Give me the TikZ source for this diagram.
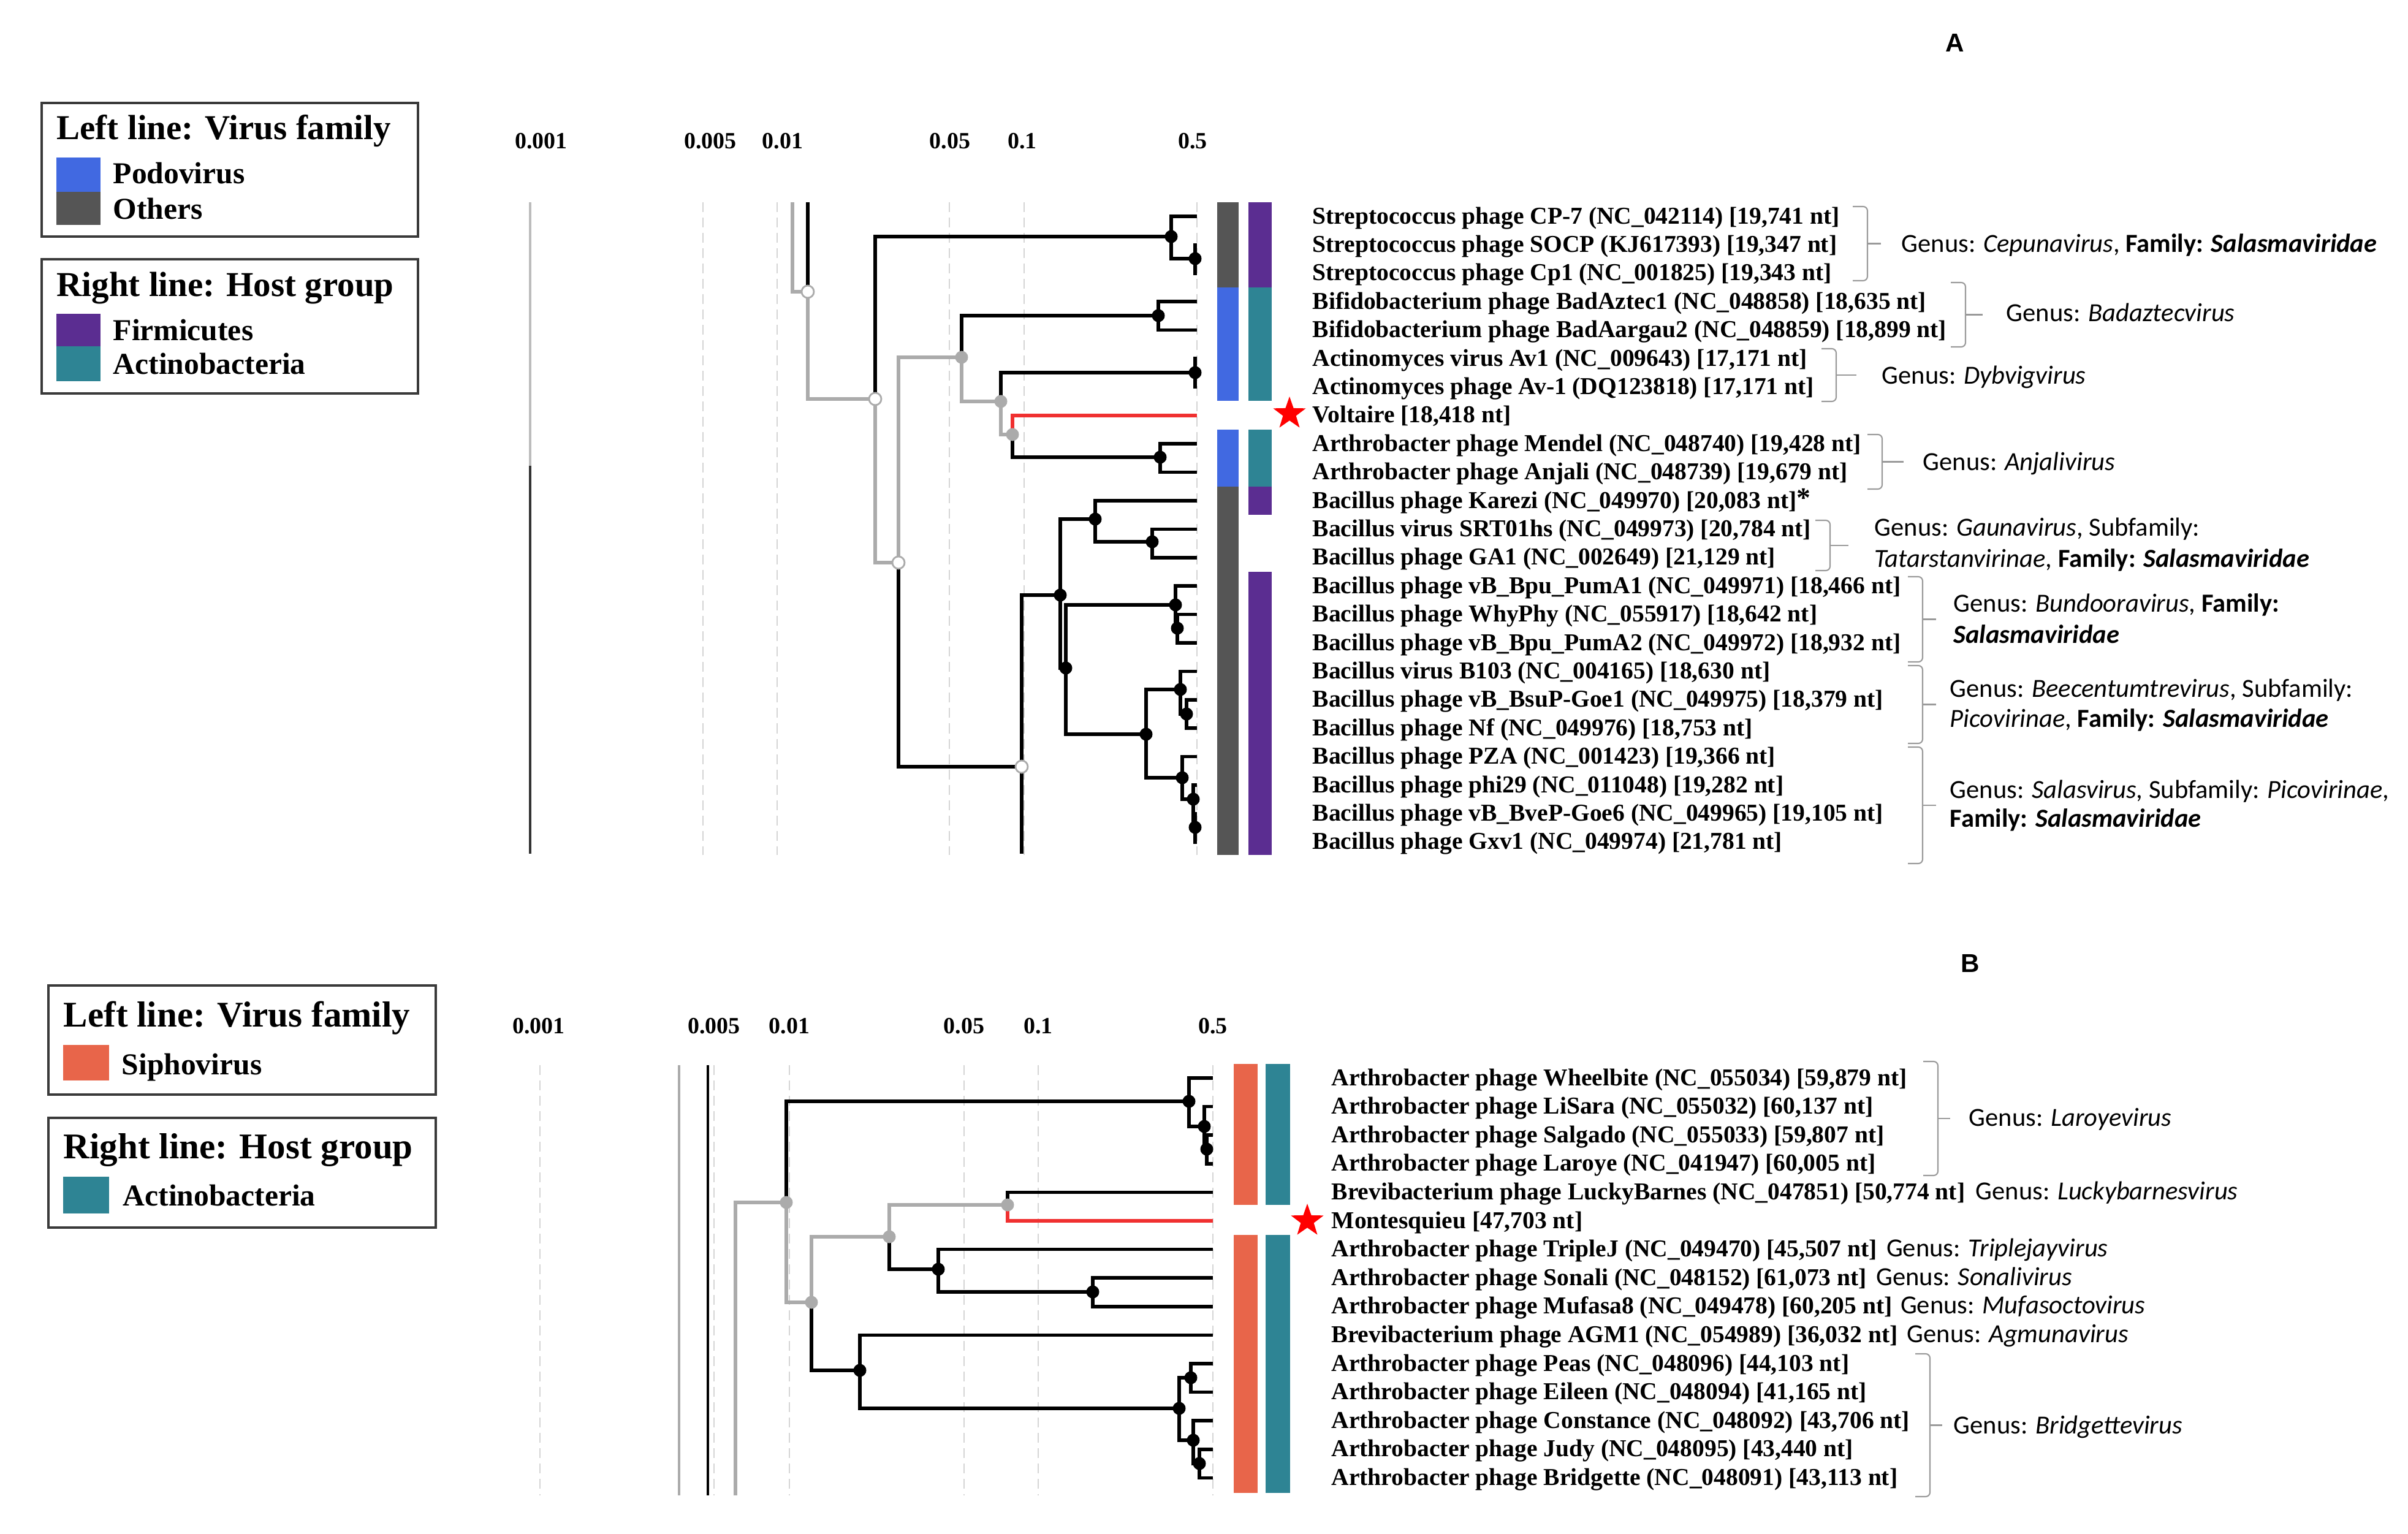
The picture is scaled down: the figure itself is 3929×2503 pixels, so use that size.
\documentclass[tikz,border=0pt]{standalone}
\usepackage{fontspec}
\setmainfont{Liberation Serif}
\newfontfamily\annofont{Carlito}
\newfontfamily\sansletter{Liberation Sans}
\usetikzlibrary{shapes.geometric,calc}

\definecolor{vgray}{HTML}{555555}
\definecolor{pblue}{HTML}{4169E1}
\definecolor{fpurple}{HTML}{5B2D91}
\definecolor{ateal}{HTML}{2E8494}
\definecolor{sorange}{HTML}{E8654A}
\definecolor{bgray}{HTML}{ABABAB}
\definecolor{gridc}{HTML}{D5D5D5}
\definecolor{redb}{HTML}{F03030}
\definecolor{bracec}{HTML}{9A9A9A}
\definecolor{boxc}{HTML}{3A3A3A}

\newcommand\gbrk[4]{%
  \draw[brk] (#1,#2) -- (#1+24,#2) -- (#1+24,#3) -- (#1,#3);
  \draw[brk] (#1+24,{(#2+#3)/2}) -- (#1+24+#4,{(#2+#3)/2});}

\begin{document}
\begin{tikzpicture}[x=0.01cm,y=-0.01cm,
  lab/.style={font=\bfseries\fontsize{11.24}{13}\selectfont, anchor=base west, inner sep=0pt},
  anno/.style={font=\annofont\fontsize{12.1}{14}\selectfont, anchor=base west, inner sep=0pt},
  scl/.style={font=\bfseries\fontsize{10.8}{12}\selectfont, anchor=base, inner sep=0pt},
  headA/.style={font=\bfseries\fontsize{16.2}{18}\selectfont, anchor=base west, inner sep=0pt},
  headB/.style={font=\bfseries\fontsize{16.8}{18}\selectfont, anchor=base west, inner sep=0pt},
  itemst/.style={font=\bfseries\fontsize{14.1}{16}\selectfont, anchor=base west, inner sep=0pt},
  blk/.style={line width=1.6pt, black},
  gry/.style={line width=1.6pt, bgray},
  redbr/.style={line width=1.6pt, redb},
  bdot/.style={circle, fill=black, inner sep=0pt, minimum size=0.21cm},
  gdot/.style={circle, fill=bgray, inner sep=0pt, minimum size=0.21cm},
  odot/.style={circle, fill=white, draw=bgray, line width=0.8pt, inner sep=0pt, minimum size=0.2cm},
  gridln/.style={gridc, line width=0.8pt, dash pattern=on 0.16cm off 0.09cm},
  brk/.style={bracec, line width=0.6pt, rounded corners=2pt},
  lbox/.style={draw=boxc, line width=1.4pt},
  starst/.style={star, star points=5, star point ratio=2.5, fill=red, inner sep=0pt, minimum size=0.56cm},
  panel/.style={font=\sansletter\bfseries\fontsize{12}{14}\selectfont, anchor=base, inner sep=0pt}
]
\useasboundingbox (0,0) rectangle (3929,2503);
\fill[white] (0,0) rectangle (3929,2503);

% ================= LEGENDS =================
\draw[lbox] (68,168) rectangle (682,386);
\draw[lbox] (68,423) rectangle (682,642);
\fill[pblue] (92,257) rectangle (164,313);
\fill[vgray] (92,313) rectangle (164,367);
\fill[fpurple] (92,512) rectangle (164,565);
\fill[ateal] (92,565) rectangle (164,622);
\node[headA] (hA1) at (92,228) {Left line: Virus family};
\node[itemst] (iA1) at (184,300) {Podovirus};
\node[itemst] (iA2) at (184,357) {Others};
\node[headA] (hA2) at (92,483) {Right line: Host group};
\node[itemst] (iA3) at (184,555) {Firmicutes};
\node[itemst] (iA4) at (184,610) {Actinobacteria};

\draw[lbox] (79,1608) rectangle (711,1786);
\draw[lbox] (79,1824) rectangle (711,2003);
\fill[sorange] (103,1705) rectangle (178,1763);
\fill[ateal] (103,1920) rectangle (178,1980);
\node[headB] (hB1) at (103,1675) {Left line: Virus family};
\node[itemst] (iB1) at (198,1753) {Siphovirus};
\node[headB] (hB2) at (103,1890) {Right line: Host group};
\node[itemst] (iB2) at (200,1967) {Actinobacteria};

% ================= PANEL LETTERS =================
\node[panel] (pA) at (3190,85) {A};
\node[panel] (pB) at (3215,1586) {B};

% ================= PANEL A =================
\node[scl] (sA1) at (883,243) {0.001};
\node[scl] (sA2) at (1159,243) {0.005};
\node[scl] (sA3) at (1277,243) {0.01};
\node[scl] (sA4) at (1550,243) {0.05};
\node[scl] (sA5) at (1668,243) {0.1};
\node[scl] (sA6) at (1946,243) {0.5};
\foreach \gx in {1147,1268,1549,1671,1953} \draw[gridln] (\gx,330) -- (\gx,1395);
\draw[line width=1.1pt, bgray!80] (865,330) -- (865,760);
\draw[line width=1.1pt, black!80] (865,760) -- (865,1393);

% bars
\fill[vgray] (1986,330) rectangle (2021,469);
\fill[pblue] (1986,469) rectangle (2021,654);
\fill[pblue] (1986,701) rectangle (2021,794);
\fill[vgray] (1986,794) rectangle (2021,1395);
\fill[fpurple] (2037,330) rectangle (2075,469);
\fill[ateal] (2037,469) rectangle (2075,654);
\fill[ateal] (2037,701) rectangle (2075,794);
\fill[fpurple] (2037,794) rectangle (2075,840);
\fill[fpurple] (2037,933) rectangle (2075,1395);
\node[starst] (starA) at (2104,675) {};

% leaves and labels
\foreach \i/\t in {
 0/{Streptococcus phage CP-7 (NC\_042114) [19,741 nt]},
 1/{Streptococcus phage SOCP (KJ617393) [19,347 nt]},
 2/{Streptococcus phage Cp1 (NC\_001825) [19,343 nt]},
 3/{Bifidobacterium phage BadAztec1 (NC\_048858) [18,635 nt]},
 4/{Bifidobacterium phage BadAargau2 (NC\_048859) [18,899 nt]},
 5/{Actinomyces virus Av1 (NC\_009643) [17,171 nt]},
 6/{Actinomyces phage Av-1 (DQ123818) [17,171 nt]},
 7/{Voltaire [18,418 nt]},
 8/{Arthrobacter phage Mendel (NC\_048740) [19,428 nt]},
 9/{Arthrobacter phage Anjali (NC\_048739) [19,679 nt]},
 10/{Bacillus phage Karezi (NC\_049970) [20,083 nt]\raisebox{0.04em}{\fontsize{13}{13}\selectfont *}},
 11/{Bacillus virus SRT01hs (NC\_049973) [20,784 nt]},
 12/{Bacillus phage GA1 (NC\_002649) [21,129 nt]},
 13/{Bacillus phage vB\_Bpu\_PumA1 (NC\_049971) [18,466 nt]},
 14/{Bacillus phage WhyPhy (NC\_055917) [18,642 nt]},
 15/{Bacillus phage vB\_Bpu\_PumA2 (NC\_049972) [18,932 nt]},
 16/{Bacillus virus B103 (NC\_004165) [18,630 nt]},
 17/{Bacillus phage vB\_BsuP-Goe1 (NC\_049975) [18,379 nt]},
 18/{Bacillus phage Nf (NC\_049976) [18,753 nt]},
 19/{Bacillus phage PZA (NC\_001423) [19,366 nt]},
 20/{Bacillus phage phi29 (NC\_011048) [19,282 nt]},
 21/{Bacillus phage vB\_BveP-Goe6 (NC\_049965) [19,105 nt]},
 22/{Bacillus phage Gxv1 (NC\_049974) [21,781 nt]}} {
  \coordinate (a\i) at (1953,{353+46.4*\i});
  \node[lab] (la\i) at (2141,{353+46.4*\i+12}) {\t};
}

% internal nodes of tree A
\coordinate (rA1) at (1293,330);
\coordinate (rA2) at (1318,330);
\coordinate (rA3) at (1667,1393);
\coordinate (N0) at (1318,476);
\coordinate (N1) at (1428,651);
\coordinate (S) at (1911,386);
\coordinate (S2) at (1950,422);
\coordinate (N2) at (1466,918);
\coordinate (N3) at (1569,583);
\coordinate (Bf) at (1890,515);
\coordinate (N4) at (1633,655);
\coordinate (Av) at (1950,608);
\coordinate (N5) at (1652,709);
\coordinate (Mn) at (1893,746);
\coordinate (N6) at (1667,1251);
\coordinate (N7) at (1730,971);
\coordinate (N8) at (1787,847);
\coordinate (G) at (1880,884);
\coordinate (N9) at (1739,1090);
\coordinate (Bu) at (1918,987);
\coordinate (Bu2) at (1921,1025);
\coordinate (N10) at (1870,1198);
\coordinate (Be) at (1926,1125);
\coordinate (Be2) at (1936,1165);
\coordinate (P) at (1929,1269);
\coordinate (P2) at (1947,1304);
\coordinate (P3) at (1950,1350);

% gray branches
\draw[gry] (rA1) |- (N0);
\draw[gry] (N0) |- (N1);
\draw[gry] (N1) |- (N2);
\draw[gry] (N2) |- (N3);
\draw[gry] (N3) |- (N4);
\draw[gry] (N4) |- (N5);
% black branches
\draw[blk] (rA2) -- (N0);
\draw[blk] (N1) |- (S);
\draw[blk] (S) |- (a0);
\draw[blk] (S) |- (S2);
\draw[blk] (S2) |- (a1);
\draw[blk] (S2) |- (a2);
\draw[blk] (N3) |- (Bf);
\draw[blk] (Bf) |- (a3);
\draw[blk] (Bf) |- (a4);
\draw[blk] (N4) |- (Av);
\draw[blk] (Av) |- (a5);
\draw[blk] (Av) |- (a6);
\draw[blk] (N5) |- (Mn);
\draw[blk] (Mn) |- (a8);
\draw[blk] (Mn) |- (a9);
\draw[blk] (N2) |- (N6);
\draw[blk] (N6) -- (rA3);
\draw[blk] (N6) |- (N7);
\draw[blk] (N7) |- (N8);
\draw[blk] (N8) |- (a10);
\draw[blk] (N8) |- (G);
\draw[blk] (G) |- (a11);
\draw[blk] (G) |- (a12);
\draw[blk] (N7) |- (N9);
\draw[blk] (N9) |- (Bu);
\draw[blk] (Bu) |- (a13);
\draw[blk] (Bu) |- (Bu2);
\draw[blk] (Bu2) |- (a14);
\draw[blk] (Bu2) |- (a15);
\draw[blk] (N9) |- (N10);
\draw[blk] (N10) |- (Be);
\draw[blk] (Be) |- (a16);
\draw[blk] (Be) |- (Be2);
\draw[blk] (Be2) |- (a17);
\draw[blk] (Be2) |- (a18);
\draw[blk] (N10) |- (P);
\draw[blk] (P) |- (a19);
\draw[blk] (P) |- (P2);
\draw[blk] (P2) |- (a20);
\draw[blk] (P2) |- (P3);
\draw[blk] (P3) |- (a21);
\draw[blk] (P3) |- (a22);
\draw[redbr] (N5) |- (a7);

% node symbols A
\foreach \n in {N0,N1,N2,N6} \node[odot] (d\n) at (\n) {};
\foreach \n in {N3,N4,N5} \node[gdot] (d\n) at (\n) {};
\foreach \n in {S,S2,Bf,Av,Mn,N7,N8,G,N9,Bu,Bu2,N10,Be,Be2,P,P2,P3} \node[bdot] (d\n) at (\n) {};

% brackets and annotations A
\gbrk{3023}{337}{458}{22}
\node[anno] (gA1) at (3102,412) {Genus: \textit{Cepunavirus}, \textbf{Family: \textit{Salasmaviridae}}};
\gbrk{3183}{461}{566}{28}
\node[anno] (gA2) at (3273,524) {Genus: \textit{Badaztecvirus}};
\gbrk{2972}{569}{655}{33}
\node[anno] (gA3) at (3070,626) {Genus: \textit{Dybvigvirus}};
\gbrk{3047}{709}{798}{35}
\node[anno] (gA4) at (3137,767) {Genus: \textit{Anjalivirus}};
\gbrk{2962}{849}{931}{30}
\node[anno] (gA5a) at (3058,874) {Genus: \textit{Gaunavirus}, Subfamily:};
\node[anno] (gA5b) at (3058,925) {\textit{Tatarstanvirinae}, \textbf{Family: \textit{Salasmaviridae}}};
\gbrk{3113}{941}{1080}{22}
\node[anno] (gA6a) at (3187,998) {Genus: \textit{Bundooravirus}, \textbf{Family:}};
\node[anno] (gA6b) at (3187,1049) {\textbf{\textit{Salasmaviridae}}};
\gbrk{3113}{1086}{1213}{22}
\node[anno] (gA7a) at (3181,1137) {Genus: \textit{Beecentumtrevirus}, Subfamily:};
\node[anno] (gA7b) at (3181,1186) {\textit{Picovirinae}, \textbf{Family: \textit{Salasmaviridae}}};
\gbrk{3113}{1219}{1409}{22}
\node[anno] (gA8a) at (3181,1302) {Genus: \textit{Salasvirus}, Subfamily: \textit{Picovirinae},};
\node[anno] (gA8b) at (3181,1349) {\textbf{Family: \textit{Salasmaviridae}}};

% ================= PANEL B =================
\node[scl] (sB1) at (879,1686) {0.001};
\node[scl] (sB2) at (1165,1686) {0.005};
\node[scl] (sB3) at (1288,1686) {0.01};
\node[scl] (sB4) at (1573,1686) {0.05};
\node[scl] (sB5) at (1694,1686) {0.1};
\node[scl] (sB6) at (1979,1686) {0.5};
\foreach \gx in {881,1165,1288,1573,1694,1979} \draw[gridln] (\gx,1738) -- (\gx,2440);
\draw[line width=1.3pt, bgray] (1108,1738) -- (1108,2440);
\draw[line width=1.4pt, black] (1155,1738) -- (1155,2440);

% bars B
\fill[sorange] (2013,1736) rectangle (2052,1966);
\fill[sorange] (2013,2015) rectangle (2052,2436);
\fill[ateal] (2065,1736) rectangle (2105,1966);
\fill[ateal] (2065,2015) rectangle (2105,2436);
\node[starst] (starB) at (2133,1992) {};

\foreach \i/\t in {
 0/{Arthrobacter phage Wheelbite (NC\_055034) [59,879 nt]},
 1/{Arthrobacter phage LiSara (NC\_055032) [60,137 nt]},
 2/{Arthrobacter phage Salgado (NC\_055033) [59,807 nt]},
 3/{Arthrobacter phage Laroye (NC\_041947) [60,005 nt]},
 4/{Brevibacterium phage LuckyBarnes (NC\_047851) [50,774 nt]},
 5/{Montesquieu [47,703 nt]},
 6/{Arthrobacter phage TripleJ (NC\_049470) [45,507 nt]},
 7/{Arthrobacter phage Sonali (NC\_048152) [61,073 nt]},
 8/{Arthrobacter phage Mufasa8 (NC\_049478) [60,205 nt]},
 9/{Brevibacterium phage AGM1 (NC\_054989) [36,032 nt]},
 10/{Arthrobacter phage Peas (NC\_048096) [44,103 nt]},
 11/{Arthrobacter phage Eileen (NC\_048094) [41,165 nt]},
 12/{Arthrobacter phage Constance (NC\_048092) [43,706 nt]},
 13/{Arthrobacter phage Judy (NC\_048095) [43,440 nt]},
 14/{Arthrobacter phage Bridgette (NC\_048091) [43,113 nt]}} {
  \coordinate (b\i) at (1979,{1759+46.6*\i});
  \node[lab] (lb\i) at (2172,{1759+46.6*\i+12}) {\t};
}

\coordinate (rB3) at (1200,2440);
\coordinate (M0) at (1283,1962);
\coordinate (L) at (1940,1797);
\coordinate (L1) at (1965,1838);
\coordinate (L2) at (1969,1875);
\coordinate (M1) at (1324,2125);
\coordinate (M2) at (1451,2018);
\coordinate (M4) at (1644,1966);
\coordinate (M5) at (1531,2071);
\coordinate (M6) at (1783,2108);
\coordinate (M3) at (1403,2236);
\coordinate (Br) at (1924,2298);
\coordinate (Br1) at (1943,2248);
\coordinate (Br2) at (1947,2350);
\coordinate (Br3) at (1957,2388);

\draw[gry] (rB3) |- (M0);
\draw[gry] (M0) |- (M1);
\draw[gry] (M1) |- (M2);
\draw[gry] (M2) |- (M4);
\draw[blk] (M0) |- (L);
\draw[blk] (L) |- (b0);
\draw[blk] (L) |- (L1);
\draw[blk] (L1) |- (b1);
\draw[blk] (L1) |- (L2);
\draw[blk] (L2) |- (b2);
\draw[blk] (L2) |- (b3);
\draw[blk] (M4) |- (b4);
\draw[blk] (M2) |- (M5);
\draw[blk] (M5) |- (b6);
\draw[blk] (M5) |- (M6);
\draw[blk] (M6) |- (b7);
\draw[blk] (M6) |- (b8);
\draw[blk] (M1) |- (M3);
\draw[blk] (M3) |- (b9);
\draw[blk] (M3) |- (Br);
\draw[blk] (Br) |- (Br1);
\draw[blk] (Br1) |- (b10);
\draw[blk] (Br1) |- (b11);
\draw[blk] (Br) |- (Br2);
\draw[blk] (Br2) |- (b12);
\draw[blk] (Br2) |- (Br3);
\draw[blk] (Br3) |- (b13);
\draw[blk] (Br3) |- (b14);
\draw[redbr] (M4) |- (b5);

\foreach \n in {M0,M1,M2,M4} \node[gdot] (d\n) at (\n) {};
\foreach \n in {L,L1,L2,M5,M6,M3,Br,Br1,Br2,Br3} \node[bdot] (d\n) at (\n) {};

% brackets and annotations B
\gbrk{3138}{1732}{1918}{20}
\node[anno] (gB1) at (3212,1837) {Genus: \textit{Laroyevirus}};
\node[anno] (gB2) at ($(lb4.base east)+(16,0)$) {Genus: \textit{Luckybarnesvirus}};
\node[anno] (gB3) at ($(lb6.base east)+(14,0)$) {Genus: \textit{Triplejayvirus}};
\node[anno] (gB4) at ($(lb7.base east)+(14,0)$) {Genus: \textit{Sonalivirus}};
\node[anno] (gB5) at ($(lb8.base east)+(12,0)$) {Genus: \textit{Mufasoctovirus}};
\node[anno] (gB6) at ($(lb9.base east)+(14,0)$) {Genus: \textit{Agmunavirus}};
\gbrk{3125}{2209}{2442}{20}
\node[anno] (gB7) at (3187,2339) {Genus: \textit{Bridgettevirus}};

\end{tikzpicture}
\end{document}
